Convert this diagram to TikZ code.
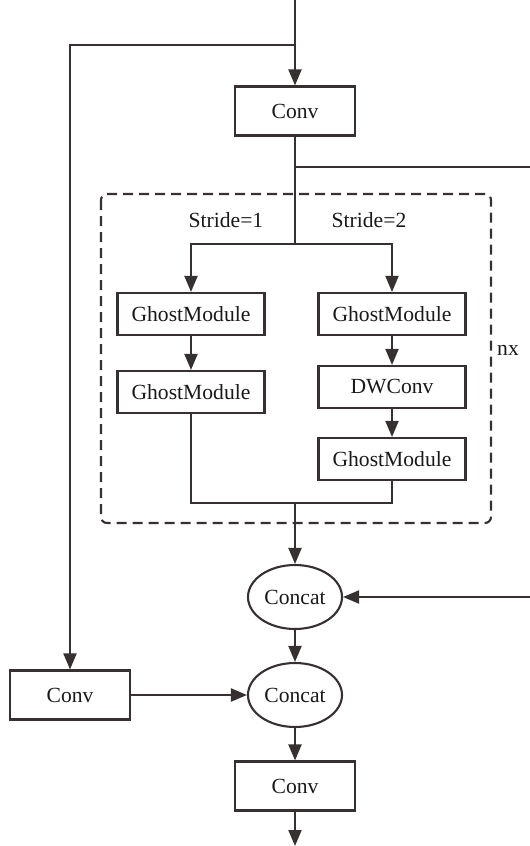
\documentclass[tikz,border=0pt]{standalone}
\usepackage{fontspec}
\setmainfont{Liberation Serif}
\usetikzlibrary{shapes.geometric,arrows.meta}
\definecolor{ln}{RGB}{55,48,48}
\begin{document}
\begin{tikzpicture}[x=0.5pt,y=-0.5pt,line width=1.05pt,color=ln,
  >={Triangle[length=8pt,width=6.5pt]}]
\tikzstyle{every node}+=[font=\fontsize{10.8}{12}\selectfont,text=black!90]
\tikzstyle{blk}=[draw,rectangle,inner sep=0pt,minimum width=60pt,minimum height=24.5pt]
\tikzstyle{gm}=[blk,minimum width=73.5pt,minimum height=21pt]
\tikzstyle{cat}=[draw,ellipse,inner sep=0pt,minimum width=47pt,minimum height=32pt]
\useasboundingbox (0,0) rectangle (530,846);
% repeated block
\draw [dash pattern=on 5pt off 3pt,rounded corners=3pt] (101,194) rectangle (491,523);
\node (s1) at (226,220) {Stride=1};
\node (s2) at (369,220) {Stride=2};
\node (nx) at (508,350) {nx};
% nodes
\coordinate (in) at (295,0);
\coordinate (j1) at (295,45);
\node [blk] (conv1) at (295,111) {Conv};
\coordinate (j2) at (295,167);
\coordinate (e1) at (536,167);
\coordinate (j3) at (295,244);
\node [gm] (gm1) at (191,314) {GhostModule};
\node [gm] (gm2) at (191,392) {GhostModule};
\node [gm] (gm3) at (392,314) {GhostModule};
\node [gm] (dw) at (392,387) {DWConv};
\node [gm] (gm4) at (392,459) {GhostModule};
\coordinate (j4) at (295,503);
\node [cat] (cat1) at (295,597) {Concat};
\node [blk] (conv2) at (70,695) {Conv};
\node [cat] (cat2) at (295,695) {Concat};
\node [blk] (conv3) at (295,786) {Conv};
\coordinate (out) at (295,846);
% connectors
\draw [->] (in) -- (conv1);
\draw [->] (j1) -| (conv2);
\draw (conv1) -- (j3);
\draw [->] (j2) -- (e1) |- (cat1);
\draw [->] (j3) -| (gm1);
\draw [->] (j3) -| (gm3);
\draw [->] (gm1) -- (gm2);
\draw [->] (gm3) -- (dw);
\draw [->] (dw) -- (gm4);
\draw (gm2) |- (j4) -| (gm4);
\draw [->] (j4) -- (cat1);
\draw [->] (cat1) -- (cat2);
\draw [->] (conv2) -- (cat2);
\draw [->] (cat2) -- (conv3);
\draw [->] (conv3) -- (out);
\end{tikzpicture}
\end{document}
